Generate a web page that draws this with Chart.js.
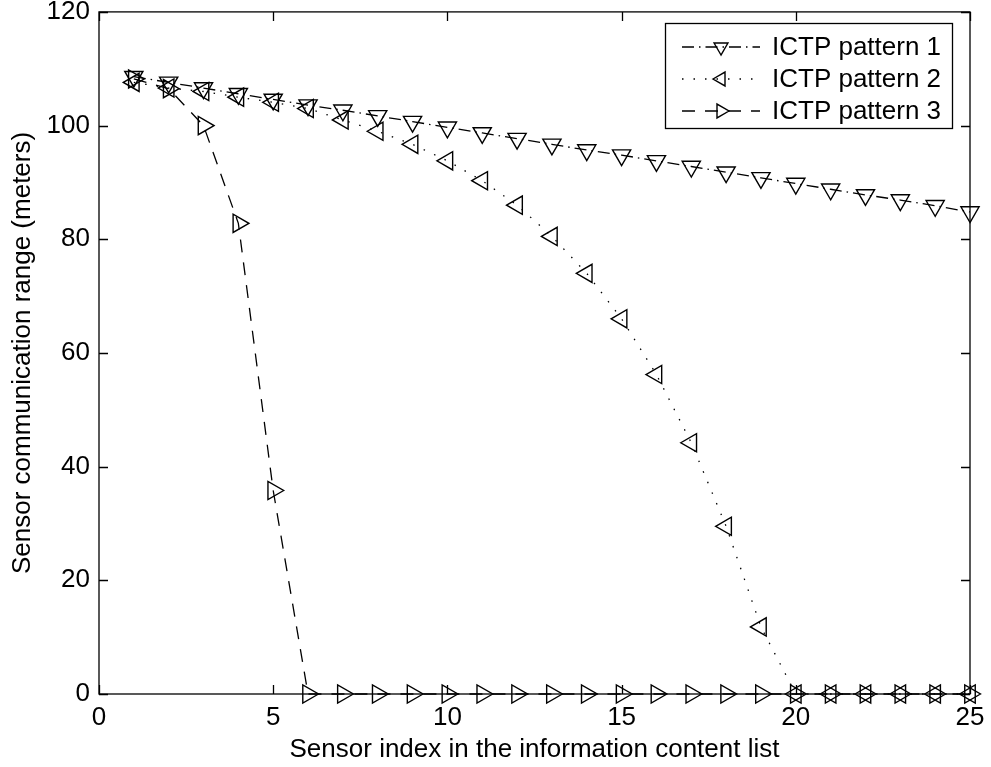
<!DOCTYPE html>
<html>
<head>
<meta charset="utf-8">
<script src="https://cdn.jsdelivr.net/npm/chart.js@4/dist/chart.umd.min.js"></script>
<style>
  html, body { margin: 0; padding: 0; background: #ffffff; }
  #wrap { width: 991px; height: 767px; position: relative; }
</style>
</head>
<body>
<div id="wrap"><canvas id="c" width="991" height="767"></canvas></div>
<script>
const sensorIndex = [1,2,3,4,5,6,7,8,9,10,11,12,13,14,15,16,17,18,19,20,21,22,23,24,25];
const pattern1 = [108.6,107.6,106.6,105.6,104.6,103.6,102.7,101.7,100.7,99.7,98.7,97.7,96.7,95.7,94.8,93.8,92.8,91.8,90.8,89.8,88.8,87.8,86.9,85.9,84.8];
const pattern2 = [107.6,106.6,106.0,105.0,104.1,103.0,101.0,99.0,96.7,93.8,90.3,86.0,80.5,74.0,66.0,56.2,44.2,29.5,11.8,0,0,0,0,0,0];
const pattern3 = [108.2,106.5,100.0,82.8,35.8,0,0,0,0,0,0,0,0,0,0,0,0,0,0,0,0,0,0,0,0];
const seriesNames = ['ICTP pattern 1','ICTP pattern 2','ICTP pattern 3'];
const xTitle = 'Sensor index in the information content list';
const yTitle = 'Sensor communication range (meters)';

const FONT = "'Liberation Sans', Arial, Helvetica, sans-serif";
const pts = arr => arr.map((v, i) => ({x: sensorIndex[i], y: v}));

const styles = [
  {dash: [12, 5, 1.5, 5], rot: 180},
  {dash: [1.5, 10], rot: 270},
  {dash: [13, 10], rot: 90}
];

const datasets = [pattern1, pattern2, pattern3].map((arr, i) => ({
  label: seriesNames[i],
  data: pts(arr),
  borderColor: '#000',
  borderWidth: 1.3,
  borderDash: styles[i].dash,
  pointStyle: 'triangle',
  pointRotation: styles[i].rot,
  pointRadius: 10.5,
  pointBorderWidth: 1.4,
  pointBorderColor: '#000',
  pointBackgroundColor: 'rgba(0,0,0,0)',
  tension: 0,
  fill: false,
  clip: false,
  order: 3 - i
}));

const boxPlugin = {
  id: 'boxPlugin',
  afterDatasetsDraw(chart) {
    const ctx = chart.ctx;
    const a = chart.chartArea;
    const xs = chart.scales.x, ys = chart.scales.y;
    const tl = 9;
    ctx.save();
    ctx.strokeStyle = '#000';
    ctx.lineWidth = 1.3;
    ctx.setLineDash([]);
    ctx.strokeRect(a.left, a.top, a.right - a.left, a.bottom - a.top);
    ctx.beginPath();
    xs.ticks.forEach(t => {
      const px = Math.round(xs.getPixelForValue(t.value)) + 0.5;
      ctx.moveTo(px, a.bottom); ctx.lineTo(px, a.bottom - tl);
      ctx.moveTo(px, a.top); ctx.lineTo(px, a.top + tl);
    });
    ys.ticks.forEach(t => {
      const py = Math.round(ys.getPixelForValue(t.value)) + 0.5;
      ctx.moveTo(a.left, py); ctx.lineTo(a.left + tl, py);
      ctx.moveTo(a.right, py); ctx.lineTo(a.right - tl, py);
    });
    ctx.stroke();

    // legend
    const L = {x0: 665, y0: 23, x1: 952, y1: 128};
    ctx.fillStyle = '#fff';
    ctx.fillRect(L.x0, L.y0, L.x1 - L.x0, L.y1 - L.y0);
    ctx.strokeRect(L.x0 + 0.5, L.y0 + 0.5, L.x1 - L.x0, L.y1 - L.y0);
    const rows = [47, 79, 111];
    chart.data.datasets.forEach((ds, i) => {
      const y = rows[i];
      ctx.save();
      ctx.lineWidth = ds.borderWidth;
      ctx.setLineDash(ds.borderDash);
      ctx.beginPath();
      ctx.moveTo(682, y); ctx.lineTo(760, y);
      ctx.stroke();
      ctx.restore();
      ctx.save();
      ctx.setLineDash([]);
      ctx.lineWidth = ds.pointBorderWidth;
      ctx.strokeStyle = '#000';
      ctx.fillStyle = 'rgba(0,0,0,0)';
      Chart.helpers.drawPoint(ctx, {pointStyle: 'triangle', rotation: ds.pointRotation, radius: 8, borderWidth: ds.pointBorderWidth}, 721, y);
      ctx.restore();
      ctx.fillStyle = '#000';
      ctx.font = '26px ' + FONT;
      ctx.textAlign = 'left';
      ctx.textBaseline = 'middle';
      ctx.fillText(ds.label, 772, y + 1);
    });
    ctx.restore();
  }
};

new Chart(document.getElementById('c'), {
  type: 'line',
  data: { datasets },
  options: {
    responsive: false,
    animation: false,
    devicePixelRatio: 1,
    layout: { padding: { top: 10, right: 21, left: 0, bottom: 0 } },
    plugins: { legend: { display: false }, tooltip: { enabled: false } },
    scales: {
      x: {
        type: 'linear', min: 0, max: 25,
        grid: { display: false, drawTicks: false },
        border: { display: false },
        ticks: { stepSize: 5, color: '#000', font: { family: FONT, size: 26 }, padding: 8, maxRotation: 0 },
        title: { display: true, text: xTitle, color: '#000', font: { family: FONT, size: 26 }, padding: { top: 0, bottom: 2 } },
        afterFit(s) { s.height = 73; s.paddingLeft = 0; s.paddingRight = 0; }
      },
      y: {
        type: 'linear', min: 0, max: 120,
        grid: { display: false, drawTicks: false },
        border: { display: false },
        ticks: { stepSize: 20, color: '#000', font: { family: FONT, size: 26 }, padding: 9 },
        title: { display: true, text: yTitle, color: '#000', font: { family: FONT, size: 26 }, padding: { top: 7, bottom: 0 } },
        afterFit(s) { s.width = 99; s.paddingTop = 0; s.paddingBottom = 0; }
      }
    }
  },
  plugins: [boxPlugin]
});
</script>
</body>
</html>
